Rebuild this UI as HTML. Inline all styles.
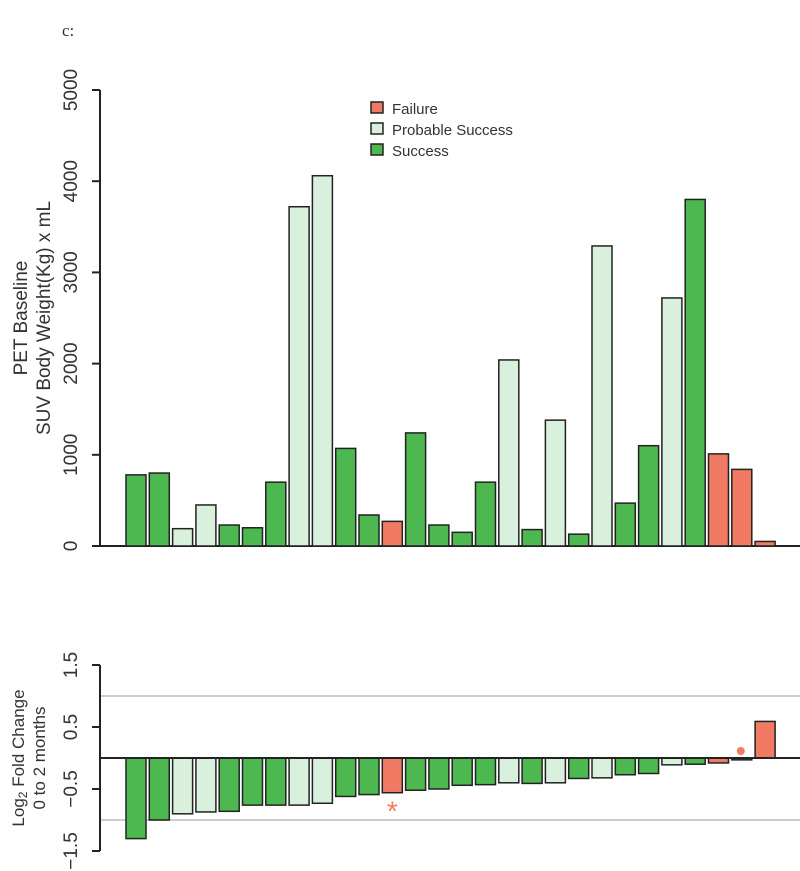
<!DOCTYPE html>
<html><head><meta charset="utf-8"><style>
body{margin:0;background:#fff}
svg{display:block;font-family:"Liberation Sans",sans-serif}
</style></head><body>
<svg id="c" width="800" height="871" viewBox="0 0 800 871">
<text x="62" y="36" font-family="Liberation Serif,serif" font-size="17" fill="#333">c:</text>
</svg>
<script>
const groups=["S","S","P","P","S","S","S","P","P","S","S","F","S","S","S","S","P","S","P","S","P","S","S","P","S","F","F","F"];
const baseline=[780,800,190,450,230,200,700,3720,4060,1070,340,270,1240,230,150,700,2040,180,1380,130,3290,470,1100,2720,3800,1010,840,50];
const fcGroups=["S","S","P","P","S","S","S","P","P","S","S","F","S","S","S","S","P","S","P","S","P","S","S","P","S","F","S","F"];
const foldChange=[-1.3,-1.0,-0.9,-0.87,-0.86,-0.76,-0.76,-0.76,-0.73,-0.62,-0.59,-0.56,-0.52,-0.5,-0.44,-0.43,-0.4,-0.41,-0.4,-0.33,-0.32,-0.27,-0.25,-0.11,-0.1,-0.08,-0.03,0.59];
const topTicks=[0,1000,2000,3000,4000,5000];
const botTicks=[-1.5,-0.5,0.5,1.5];
const legendLabels=["Failure","Probable Success","Success"];
const colors={F:"#f07a63",P:"#d8f0dc",S:"#4cb84f"};
const NS="http://www.w3.org/2000/svg";
const svg=document.getElementById("c");
function el(t,a,txt){const e=document.createElementNS(NS,t);for(const k in a)e.setAttribute(k,a[k]);if(txt!==undefined)e.textContent=txt;svg.appendChild(e);return e;}
const xPos=i=>126+i*23.3;const bw=20;
const yTop=v=>546-v*456/5000;
const yBot=v=>758-v*62;
let e=el("line",{x1:100,y1:90,x2:100,y2:546,stroke:"#222","stroke-width":2});

topTicks.forEach(t=>{
 let l=el("line",{x1:92,x2:100,y1:yTop(t),y2:yTop(t),stroke:"#222","stroke-width":2});
 
 let tx=el("text",{"font-size":19,fill:"#333","text-anchor":"middle",transform:`translate(77,${yTop(t)}) rotate(-90)`},String(t));
 
});
e=el("line",{x1:100,y1:546,x2:800,y2:546,stroke:"#222","stroke-width":2});

baseline.forEach((v,i)=>{
 let r=el("rect",{x:xPos(i),y:yTop(v),width:bw,height:546-yTop(v),fill:colors[groups[i]],stroke:"#222","stroke-width":1.5});
 
});
e=el("text",{"font-size":19,fill:"#333","text-anchor":"middle",transform:"translate(27,318) rotate(-90)"},"PET Baseline");

e=el("text",{"font-size":19,fill:"#333","text-anchor":"middle",transform:"translate(50,318) rotate(-90)"},"SUV Body Weight(Kg) x mL");

legendLabels.forEach((s,i)=>{
 const k=["F","P","S"][i];
 let r=el("rect",{x:371,y:102+i*21,width:12,height:11,fill:colors[k],stroke:"#222","stroke-width":1.5});
 
 let t=el("text",{x:392,y:114+i*21,"font-size":15,fill:"#333"},s);
 
});
[1,-1].forEach(g=>{let l=el("line",{x1:100,x2:800,y1:yBot(g),y2:yBot(g),stroke:"#ccc","stroke-width":2});
 });
e=el("line",{x1:100,y1:yBot(1.5),x2:100,y2:yBot(-1.5),stroke:"#222","stroke-width":2});

botTicks.forEach(t=>{
 let l=el("line",{x1:92,x2:100,y1:yBot(t),y2:yBot(t),stroke:"#222","stroke-width":2});
 
 let tx=el("text",{"font-size":19,fill:"#333","text-anchor":"middle",transform:`translate(77,${yBot(t)}) rotate(-90)`},(t<0?"\u2212":"")+Math.abs(t));
 
});
foldChange.forEach((v,i)=>{
 const y0=Math.min(yBot(0),yBot(v));
 let r=el("rect",{x:xPos(i),y:y0,width:bw,height:Math.max(1,Math.abs(yBot(v)-yBot(0))),fill:colors[fcGroups[i]],stroke:"#222","stroke-width":1.5});
 
});
e=el("line",{x1:100,y1:758,x2:800,y2:758,stroke:"#222","stroke-width":2});

e=el("text",{x:xPos(11)+bw/2,y:yBot(foldChange[11])+28,"font-size":28,fill:"#f07a63","text-anchor":"middle"},"*");

e=el("circle",{cx:xPos(26)+bw/2-1,cy:751,r:4,fill:"#f07a63"});

e=el("text",{"font-size":17,fill:"#333","text-anchor":"middle",transform:"translate(24,758) rotate(-90)"});
e.innerHTML='Log<tspan font-size="12" dy="3">2</tspan><tspan dy="-3"> Fold Change</tspan>';

e=el("text",{"font-size":17,fill:"#333","text-anchor":"middle",transform:"translate(45,758) rotate(-90)"},"0 to 2 months");

</script>
</body></html>
